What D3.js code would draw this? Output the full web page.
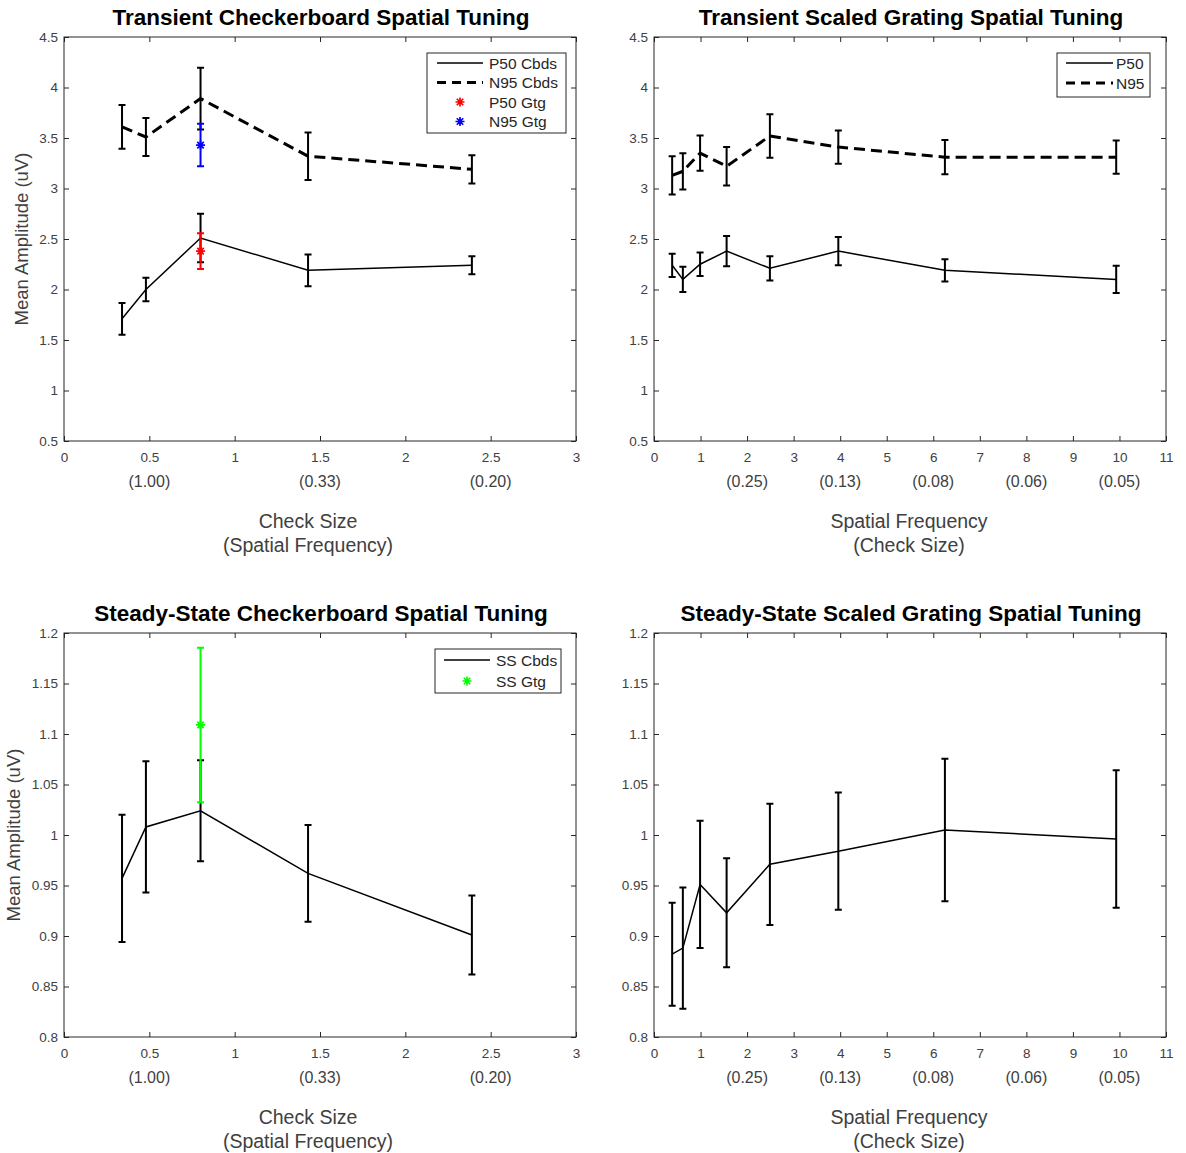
<!DOCTYPE html>
<html><head><meta charset="utf-8">
<script src="https://cdn.jsdelivr.net/npm/d3@7"></script>
<style>body{margin:0;background:#fff}svg{display:block}text{font-family:"Liberation Sans",Arial,sans-serif}</style>
</head><body>
<script>
// ---- data ----
const cbdsX = [0.34, 0.48, 0.80, 1.43, 2.39];
const p50Cbds = [1.71, 2.00, 2.51, 2.19, 2.24];
const p50CbdsErr = [0.157, 0.117, 0.24, 0.157, 0.09];
const n95Cbds = [3.61, 3.51, 3.89, 3.32, 3.19];
const n95CbdsErr = [0.217, 0.187, 0.305, 0.235, 0.14];
const gtgX = [0.80];
const p50Gtg = [2.38];
const p50GtgErr = [0.177];
const n95Gtg = [3.43];
const n95GtgErr = [0.21];

const gratX = [0.39, 0.62, 0.99, 1.56, 2.49, 3.96, 6.25, 9.93];
const p50Grat = [2.24, 2.10, 2.25, 2.38, 2.21, 2.38, 2.19, 2.10];
const p50GratErr = [0.115, 0.125, 0.117, 0.15, 0.12, 0.14, 0.11, 0.135];
const n95Grat = [3.13, 3.17, 3.35, 3.22, 3.52, 3.41, 3.31, 3.31];
const n95GratErr = [0.19, 0.18, 0.175, 0.19, 0.215, 0.165, 0.17, 0.165];

const ssCbds = [0.957, 1.008, 1.024, 0.962, 0.901];
const ssCbdsErr = [0.063, 0.065, 0.05, 0.048, 0.039];
const ssGtg = [1.109];
const ssGtgErr = [0.0765];

const ssGrat = [0.882, 0.888, 0.951, 0.923, 0.971, 0.984, 1.005, 0.996];
const ssGratErr = [0.051, 0.06, 0.063, 0.054, 0.06, 0.058, 0.0705, 0.068];

const cbdsXTicks = [0, 0.5, 1, 1.5, 2, 2.5, 3];
const cbdsSecondTicks = [0.5, 1.5, 2.5];
const cbdsSecondLabels = ["(1.00)", "(0.33)", "(0.20)"];
const gratXTicks = [0,1,2,3,4,5,6,7,8,9,10,11];
const gratSecondTicks = [2, 4, 6, 8, 10];
const gratSecondLabels = ["(0.25)", "(0.13)", "(0.08)", "(0.06)", "(0.05)"];
const transYTicks = [0.5,1,1.5,2,2.5,3,3.5,4,4.5];
const ssYTicks = [0.8,0.85,0.9,0.95,1,1.05,1.1,1.15,1.2];

const titles = ["Transient Checkerboard Spatial Tuning","Transient Scaled Grating Spatial Tuning",
  "Steady-State Checkerboard Spatial Tuning","Steady-State Scaled Grating Spatial Tuning"];

// ---- drawing ----
const W = 1186, H = 1153;
const svg = d3.select("body").append("svg").attr("width", W).attr("height", H);
const AX = "#262626", TXT = "#404040";

function fmt(v){ return String(+v.toFixed(2)); }

function asterisk(g, cx, cy, color){
  const r = 4.5, d = r*0.72;
  const p = `M${cx-r},${cy}L${cx+r},${cy}M${cx},${cy-r}L${cx},${cy+r}M${cx-d},${cy-d}L${cx+d},${cy+d}M${cx-d},${cy+d}L${cx+d},${cy-d}`;
  g.append("path").attr("d", p).attr("stroke", color).attr("stroke-width", 1.7).attr("fill","none");
}

function panel(cfg){
  const {x0,x1,y0,y1,xDom,yDom,xTicks,yTicks,sTicks,sLabels,title,xlab,xlabC,ylab,ylabX} = cfg;
  const x = d3.scaleLinear().domain(xDom).range([x0,x1]);
  const y = d3.scaleLinear().domain(yDom).range([y1,y0]);
  const g = svg.append("g");
  g.append("rect").attr("x",x0).attr("y",y0).attr("width",x1-x0).attr("height",y1-y0)
    .attr("fill","#fff").attr("stroke",AX).attr("stroke-width",1);
  const style = a => { a.select(".domain").remove(); a.selectAll(".tick line").attr("stroke",AX);
    a.selectAll("text").attr("fill",TXT).style("font-size","13.5px").style("font-family",'"Liberation Sans",Arial,sans-serif'); };
  g.append("g").attr("transform",`translate(0,${y1})`)
    .call(d3.axisBottom(x).tickValues(xTicks).tickFormat(fmt).tickSizeInner(-5).tickSizeOuter(0).tickPadding(11)).call(style);
  g.append("g").attr("transform",`translate(0,${y0})`)
    .call(d3.axisTop(x).tickValues(xTicks).tickFormat("").tickSizeInner(-5).tickSizeOuter(0)).call(style);
  g.append("g").attr("transform",`translate(${x0},0)`)
    .call(d3.axisLeft(y).tickValues(yTicks).tickFormat(fmt).tickSizeInner(-5).tickSizeOuter(0).tickPadding(6)).call(style);
  g.append("g").attr("transform",`translate(${x1},0)`)
    .call(d3.axisRight(y).tickValues(yTicks).tickFormat("").tickSizeInner(-5).tickSizeOuter(0)).call(style);
  // second-line labels
  sTicks.forEach((t,i)=>{
    g.append("text").attr("x",x(t)).attr("y",y1+46).attr("text-anchor","middle")
      .attr("fill",TXT).style("font-size","16px").text(sLabels[i]);
  });
  const cx = (x0+x1)/2;
  g.append("text").attr("x",xlabC).attr("y",y1+87).attr("text-anchor","middle").attr("fill",TXT).style("font-size","19.5px").text(xlab[0]);
  g.append("text").attr("x",xlabC).attr("y",y1+111).attr("text-anchor","middle").attr("fill",TXT).style("font-size","19.5px").text(xlab[1]);
  g.append("text").attr("x",cx+1).attr("y",y0-12).attr("text-anchor","middle").attr("fill","#000")
    .style("font-size","22.5px").style("font-weight","bold").text(title);
  if (ylab) {
    g.append("text").attr("transform",`translate(${ylabX},${(y0+y1)/2}) rotate(-90)`).attr("text-anchor","middle")
      .attr("fill",TXT).style("font-size","18.5px").text(ylab);
  }
  return {g,x,y};
}

function series(P, xs, ys, es, opts){
  const {g,x,y} = P;
  const color = opts.color || "#000";
  if (opts.line) {
    g.append("path").datum(xs.map((v,i)=>[v,ys[i]]))
      .attr("d", d3.line().x(d=>x(d[0])).y(d=>y(d[1])))
      .attr("fill","none").attr("stroke",color).attr("stroke-width",opts.dash?3:1.5)
      .attr("stroke-dasharray",opts.dash?"11,6":null);
  }
  const cw = 3.5;
  xs.forEach((v,i)=>{
    const px = x(v), t = y(ys[i]+es[i]), b = y(ys[i]-es[i]);
    g.append("path").attr("d",`M${px},${t}L${px},${b}M${px-cw},${t}L${px+cw},${t}M${px-cw},${b}L${px+cw},${b}`)
      .attr("stroke",color).attr("stroke-width",2).attr("fill","none");
    if (opts.marker) asterisk(g, px, y(ys[i]), color);
  });
}

function legend(g, lx, ly, w, h, items, rowY, lineX0, lineX1, textX){
  g.append("rect").attr("x",lx).attr("y",ly).attr("width",w).attr("height",h)
    .attr("fill","#fff").attr("stroke",AX).attr("stroke-width",1);
  items.forEach((it,i)=>{
    const yy = rowY[i];
    if (it.type==="line") {
      g.append("line").attr("x1",lineX0).attr("x2",lineX1).attr("y1",yy).attr("y2",yy)
        .attr("stroke","#000").attr("stroke-width",it.dash?3:1.5).attr("stroke-dasharray",it.dash?"9,6":null);
    } else {
      asterisk(g,(lineX0+lineX1)/2,yy,it.color);
    }
    g.append("text").attr("x",textX).attr("y",yy+5.5).attr("fill","#262626").style("font-size","15.5px").text(it.label);
  });
}

// Panel 1
const P1 = panel({x0:64,x1:576,y0:37,y1:441,xDom:[0,3],yDom:[0.5,4.5],xTicks:cbdsXTicks,yTicks:transYTicks,
  sTicks:cbdsSecondTicks,sLabels:cbdsSecondLabels,title:titles[0],xlab:["Check Size","(Spatial Frequency)"],xlabC:308,
  ylab:"Mean Amplitude (uV)",ylabX:28});
series(P1, cbdsX, p50Cbds, p50CbdsErr, {line:true});
series(P1, cbdsX, n95Cbds, n95CbdsErr, {line:true,dash:true});
series(P1, gtgX, p50Gtg, p50GtgErr, {marker:true,color:"#ff0000"});
series(P1, gtgX, n95Gtg, n95GtgErr, {marker:true,color:"#0000ff"});
legend(P1.g, 427, 53, 139, 80, [
  {type:"line",label:"P50 Cbds"},{type:"line",dash:true,label:"N95 Cbds"},
  {type:"mark",color:"#ff0000",label:"P50 Gtg"},{type:"mark",color:"#0000ff",label:"N95 Gtg"}],
  [63,82.5,102,121.5], 437, 483, 489);

// Panel 2
const P2 = panel({x0:654,x1:1166,y0:37,y1:441,xDom:[0,11],yDom:[0.5,4.5],xTicks:gratXTicks,yTicks:transYTicks,
  sTicks:gratSecondTicks,sLabels:gratSecondLabels,title:titles[1],xlab:["Spatial Frequency","(Check Size)"],xlabC:909});
series(P2, gratX, p50Grat, p50GratErr, {line:true});
series(P2, gratX, n95Grat, n95GratErr, {line:true,dash:true});
legend(P2.g, 1057, 53, 93, 44, [
  {type:"line",label:"P50"},{type:"line",dash:true,label:"N95"}],
  [63,83], 1066, 1113, 1116);

// Panel 3
const P3 = panel({x0:64,x1:576,y0:633,y1:1037,xDom:[0,3],yDom:[0.8,1.2],xTicks:cbdsXTicks,yTicks:ssYTicks,
  sTicks:cbdsSecondTicks,sLabels:cbdsSecondLabels,title:titles[2],xlab:["Check Size","(Spatial Frequency)"],xlabC:308,
  ylab:"Mean Amplitude (uV)",ylabX:20});
series(P3, cbdsX, ssCbds, ssCbdsErr, {line:true});
series(P3, gtgX, ssGtg, ssGtgErr, {marker:true,color:"#00ff00"});
legend(P3.g, 435, 649, 126, 44, [
  {type:"line",label:"SS Cbds"},{type:"mark",color:"#00ff00",label:"SS Gtg"}],
  [660,681], 444, 490, 496);

// Panel 4
const P4 = panel({x0:654,x1:1166,y0:633,y1:1037,xDom:[0,11],yDom:[0.8,1.2],xTicks:gratXTicks,yTicks:ssYTicks,
  sTicks:gratSecondTicks,sLabels:gratSecondLabels,title:titles[3],xlab:["Spatial Frequency","(Check Size)"],xlabC:909});
series(P4, gratX, ssGrat, ssGratErr, {line:true});
</script>
</body></html>
